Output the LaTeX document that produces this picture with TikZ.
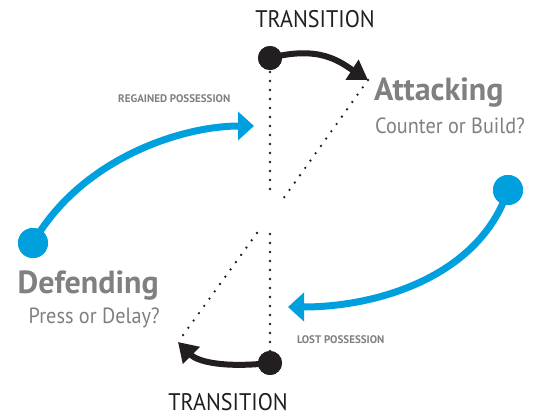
\documentclass[tikz,border=0pt]{standalone}
\usepackage{fontspec}
\setmainfont{PT Sans}
\newfontfamily\condfont[FakeStretch=0.92]{PT Sans}
\usetikzlibrary{arrows.meta}
\definecolor{cblue}{RGB}{0,160,222}
\definecolor{cblack}{RGB}{35,31,32}
\definecolor{cgray}{RGB}{128,128,130}
\begin{document}
\begin{tikzpicture}[x=1pt,y=-1pt,
 dot/.style={circle,fill=cblack,inner sep=0pt,minimum size=24pt},
 bdot/.style={circle,fill=cblue,inner sep=0pt,minimum size=30pt},
 blk/.style={line width=6pt,cblack,-{Triangle[length=19pt,width=23pt]}},
 blu/.style={line width=7pt,cblue,-{Triangle[length=16pt,width=28pt]}},
 dots/.style={line width=2.6pt,cblack,line cap=round,dash pattern=on 0pt off 9pt},
 trans/.style={font=\condfont\fontsize{24}{24}\selectfont,text=cblack,inner sep=0pt,text depth=0pt},
 big/.style={font=\bfseries\fontsize{32}{32}\selectfont,text=cgray,inner sep=0pt},
 sub/.style={font=\condfont\fontsize{22}{22}\selectfont,text=cgray,inner sep=0pt},
 small/.style={font=\bfseries\fontsize{11}{11}\selectfont,text=cgray,inner sep=0pt}]
\useasboundingbox[fill=white] (0,0) rectangle (539,416);
% coordinates
\coordinate (toptip) at (368,80);
\coordinate (bottip) at (178,342);
\coordinate (lefttip) at (254,126);
\coordinate (righttip) at (288,307);
\coordinate (v1a) at (270,72);
\coordinate (v1b) at (270,194);
\coordinate (d1b) at (283,199);
\coordinate (v2a) at (270,234);
\coordinate (v2b) at (270,353);
\coordinate (d2a) at (257,233);
% dots (nodes)
\node[dot] (topdot) at (270,58) {};
\node[dot] (botdot) at (270,363) {};
\node[bdot] (leftdot) at (33,243) {};
\node[bdot] (rightdot) at (508,190) {};
% dotted lines
\draw[dots] (v1a) -- (v1b);
\draw[dots] (toptip) -- (d1b);
\draw[dots] (v2a) -- (v2b);
\draw[dots] (d2a) -- (bottip);
% arrows
\draw[blu] (leftdot.center) .. controls (80,160) and (180,126) .. (lefttip);
\draw[blu] (rightdot.center) .. controls (480,275) and (380,307) .. (righttip);
\draw[blk] (topdot.center) .. controls (320,45) and (340,62) .. (toptip);
\draw[blk] (botdot.center) .. controls (225,368) and (198,362) .. (bottip);
\node[dot] at (topdot) {};
\node[dot] at (botdot) {};
\node[bdot] at (leftdot) {};
\node[bdot] at (rightdot) {};
% texts
\node[trans,anchor=base] (t1) at (315,27) {TRANSITION};
\node[trans,anchor=base] (t2) at (228,410) {TRANSITION};
\node[big,anchor=base west] (att) at (374,100) {Attacking};
\node[sub,anchor=base west] (cob) at (375,133) {Counter or Build?};
\node[big,anchor=base east] (def) at (159,293) {Defending};
\node[sub,anchor=base east] (pod) at (160,323) {Press or Delay?};
\node[small,anchor=base west] (reg) at (118,102) {REGAINED POSSESSION};
\node[small,anchor=base west] (lost) at (297,343) {LOST POSSESSION};
\end{tikzpicture}
\end{document}
